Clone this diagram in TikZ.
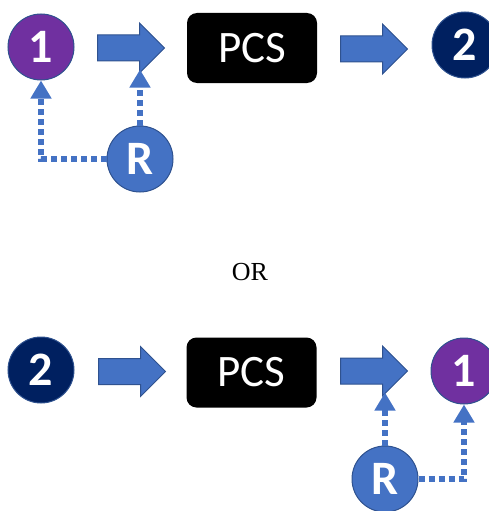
\documentclass[tikz,border=0pt]{standalone}
\usepackage{fontspec}
\setmainfont{Carlito}
\newfontfamily\orfont{Liberation Serif}
\usepackage{xcolor}
\usepackage{tikz}
\usetikzlibrary{arrows.meta,shapes.arrows,calc}

\definecolor{stepblue}{HTML}{4472C4}
\definecolor{edgeblue}{HTML}{2F528F}
\definecolor{stepnavy}{HTML}{002060}
\definecolor{steppurple}{HTML}{7030A0}

\begin{document}
\begin{tikzpicture}[x=1pt,y=-1pt,semithick,
	numstate/.style={circle, draw=edgeblue, line width=1pt, minimum size=66pt, inner sep=0pt, text=white, font=\fontsize{48}{48}\selectfont\bfseries},
	pcsbox/.style={rectangle, rounded corners=10pt, fill=black, minimum width=130pt, minimum height=70pt, text=white, font=\fontsize{45}{45}\selectfont},
	blockarrow/.style={single arrow, anchor=tail, fill=stepblue, draw=edgeblue, line width=1pt, minimum height=67pt, minimum width=49pt, single arrow head extend=12pt, inner xsep=0pt, inner ysep=12.5pt},
	dotlink/.style={draw=stepblue, line width=6pt, dash pattern=on 6pt off 4pt, -{Triangle[width=20pt,length=18pt]}}]
	\useasboundingbox (0,0) rectangle (489,511);

	% first way round
	\node[numstate, fill=steppurple] (oneA) at (41,47) {1};
	\node[blockarrow] (arrA) at (97,48) {};
	\node[pcsbox] (pcsA) at (252,48) {PCS};
	\node[blockarrow] (arrB) at (340,49) {};
	\node[numstate, fill=stepnavy] (twoA) at (465,45) {2};
	\node[numstate, fill=stepblue] (rA) at (140,159) {R};

	\draw[dotlink] (rA.west) -| (oneA.south);
	\draw[dotlink] (rA.north) -- ($(rA.north |- arrA.south)+(0,8)$);

	\node[font=\orfont\fontsize{26}{26}\selectfont] (or) at (250,272) {OR};

	% second way round
	\node[numstate, fill=stepnavy] (twoB) at (41,370) {2};
	\node[blockarrow] (arrC) at (98,371.5) {};
	\node[pcsbox] (pcsB) at (251.5,372.5) {PCS};
	\node[blockarrow] (arrD) at (340,371) {};
	\node[numstate, fill=steppurple] (oneB) at (464,371) {1};
	\node[numstate, fill=stepblue] (rB) at (385,479) {R};

	\draw[dotlink] (rB.east) -| (oneB.south);
	\draw[dotlink] (rB.north) -- ($(rB.north |- arrD.south)+(0,8)$);
\end{tikzpicture}
\end{document}
